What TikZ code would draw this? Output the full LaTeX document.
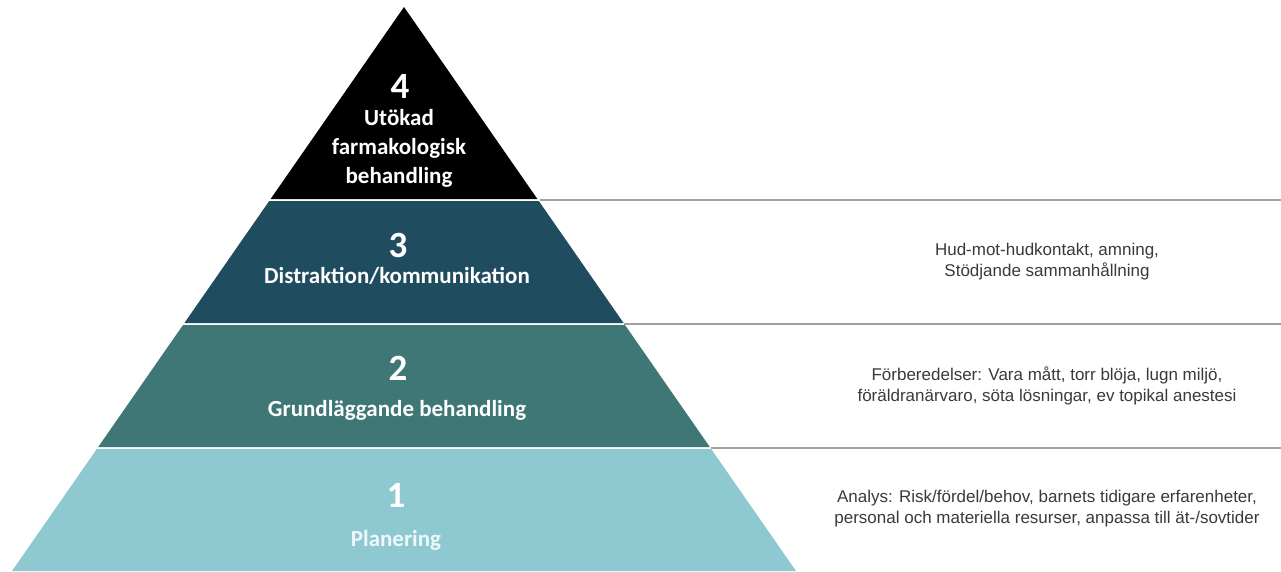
\documentclass[tikz,border=0pt]{standalone}
\usepackage{fontspec}
\setmainfont{Liberation Sans}
\newfontfamily\lvlfont{Carlito}
\definecolor{lfour}{HTML}{000000}
\definecolor{lthree}{HTML}{1F4C5E}
\definecolor{ltwo}{HTML}{3E7775}
\definecolor{lone}{HTML}{8EC9D2}
\definecolor{onetext}{HTML}{EEF7F9}
\definecolor{sidetext}{HTML}{3A3A3A}
\definecolor{rule}{HTML}{A0A0A0}
\tikzset{
  digit/.style={text=white, font=\lvlfont\bfseries\fontsize{37}{37}\selectfont, inner sep=0pt},
  lvltext/.style={text=white, font=\lvlfont\bfseries\fontsize{23}{29}\selectfont, align=center, inner sep=0pt},
  sidenote/.style={text=sidetext, font=\fontsize{17}{21}\selectfont, align=center, inner sep=0pt},
  ruleline/.style={draw=rule, line width=1.6pt}
}
\begin{document}
\begin{tikzpicture}[x=1pt,y=-1pt]
\useasboundingbox (0,0) rectangle (1281,571);
\fill[white] (0,0) rectangle (1281,571);
% pyramid levels
\fill[lfour] (404,7) -- (537.4,199) -- (270.6,199) -- cycle;
\fill[lthree] (269.2,201) -- (538.8,201) -- (623.6,323) -- (184.4,323) -- cycle;
\fill[ltwo] (183,325) -- (625,325) -- (709.8,447) -- (98.2,447) -- cycle;
\fill[lone] (96.8,449) -- (711.2,449) -- (796,571) -- (12,571) -- cycle;
% rule coordinates
\coordinate (r3) at (539.5,200);
\coordinate (e3) at (1281,200);
\coordinate (r2) at (624.3,324);
\coordinate (e2) at (1281,324);
\coordinate (r1) at (710.5,448);
\coordinate (e1) at (1281,448);
\draw[ruleline] (r3) -- (e3);
\draw[ruleline] (r2) -- (e2);
\draw[ruleline] (r1) -- (e1);
% level labels
\node[digit] (d4) at (400,86) {4};
\node[lvltext] (t4) at (399,148) {Utökad\\farmakologisk\\behandling};
\node[digit] (d3) at (398,245) {3};
\node[lvltext] (t3) at (397,276) {Distraktion/kommunikation};
\node[digit] (d2) at (398,368) {2};
\node[lvltext] (t2) at (397,410) {Grundläggande behandling};
\node[digit] (d1) at (396,495) {1};
\node[lvltext, text=onetext] (t1) at (396,540) {Planering};
% side notes
\node[sidenote] (n3) at (1047,262) {Hud-mot-hudkontakt, amning,\\Stödjande sammanhållning};
\node[sidenote] (n2) at (1047,386) {Förberedelser: Vara mått, torr blöja, lugn miljö,\\föräldranärvaro, söta lösningar, ev topikal anestesi};
\node[sidenote] (n1) at (1047,509) {Analys: Risk/fördel/behov, barnets tidigare erfarenheter,\\personal och materiella resurser, anpassa till ät-/sovtider};
\end{tikzpicture}
\end{document}
